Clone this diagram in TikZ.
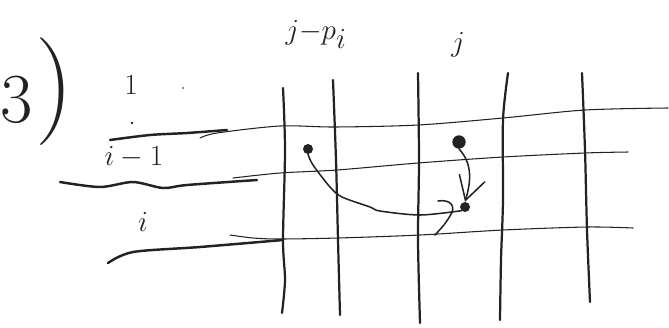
\documentclass[tikz,border=0pt]{standalone}
\usepackage{amsmath}
\usetikzlibrary{arrows.meta}
\definecolor{ink}{HTML}{222222}

\begin{document}
\begin{tikzpicture}[
  x=0.3mm, y=-0.3mm,
  gridv/.style={draw=ink, line width=1.9pt, line cap=round},
  gridh/.style={draw=ink, line width=0.9pt, line cap=round},
  rule/.style={draw=ink, line width=2.1pt, line cap=round},
  lbl/.style={text=ink, inner sep=0pt, font=\fontsize{25}{30}\selectfont},
  dot/.style={circle, fill=ink, inner sep=0pt, minimum size=#1},
  dot/.default=3mm,
  wire/.style={draw=ink, line width=1.3pt, line cap=round},
  arrow/.style={wire, -{Straight Barb[length=7mm, width=8mm, line width=1.3pt]}}
]
\useasboundingbox (0,0) rectangle (669,327);
% heading
\node[lbl, font=\fontsize{60}{64}\selectfont] (num) at (17,100) {3};
\node[lbl, font=\fontsize{92}{96}\selectfont] (paren) at (55,92) {)};
% row labels
\node[lbl] (r1) at (131,85) {$1$};
\node[lbl] (rprev) at (134,157) {$i-1$};
\node[lbl] (ri) at (143,222) {$i$};
\fill[ink] (183,88) circle (0.9);
\fill[ink] (132,123) circle (1.4);
% column labels
\node[lbl, font=\fontsize{34}{38}\selectfont] (cprev) at (316,34) {$j{-}p_i$};
\node[lbl, font=\fontsize{34}{38}\selectfont] (cj) at (458,45) {$j$};
% row rules on the left
\draw[rule] plot[smooth] coordinates {(110,140) (150,135) (187,133) (227,130)};
\draw[rule] plot[smooth] coordinates {(60,182) (100,187) (133,182) (163,188) (187,185) (257,180)};
\draw[rule] plot[smooth] coordinates {(108,263) (133,252) (200,247) (283,240)};
% horizontal grid lines
\draw[gridh] plot[smooth] coordinates {(200,138) (217,133) (280,126) (335,127) (418,125) (503,118) (585,110) (668,108)};
\draw[gridh] plot[smooth] coordinates {(233,178) (280,173) (337,170) (418,163) (503,157) (585,153) (628,152)};
\draw[gridh] plot[smooth] coordinates {(230,235) (253,238) (280,239) (338,238) (420,235) (503,230) (587,227) (633,228)};
% vertical grid lines
\draw[gridv] plot[smooth] coordinates {(283,88) (285,150) (283,240) (285,280) (282,313)};
\draw[gridv] plot[smooth] coordinates {(333,80) (336,160) (338,240) (340,315)};
\draw[gridv] plot[smooth] coordinates {(418,73) (419,160) (418,240) (420,323)};
\draw[gridv] plot[smooth] coordinates {(508,73) (503,120) (503,200) (501,260) (500,320)};
\draw[gridv] plot[smooth] coordinates {(582,73) (585,150) (587,230) (590,302)};
% cells
\node[dot] (src) at (308,149) {};
\node[dot=4mm] (up) at (459,142) {};
\node[dot] (tgt) at (465,207) {};
\coordinate (hook) at (438,201);
\coordinate (foot) at (435,235);
\draw[wire] plot[smooth] coordinates {(src.south) (313,165) (330,187) (342,197) (370,207) (380,211) (420,215) (tgt.south west)};
\draw[arrow] (up.south) .. controls (474,165) and (470,185) .. (tgt.north);
\draw[wire] (hook) .. controls (450,199) and (457,206) .. (450,216) .. controls (445,224) .. (foot);
\end{tikzpicture}
\end{document}
